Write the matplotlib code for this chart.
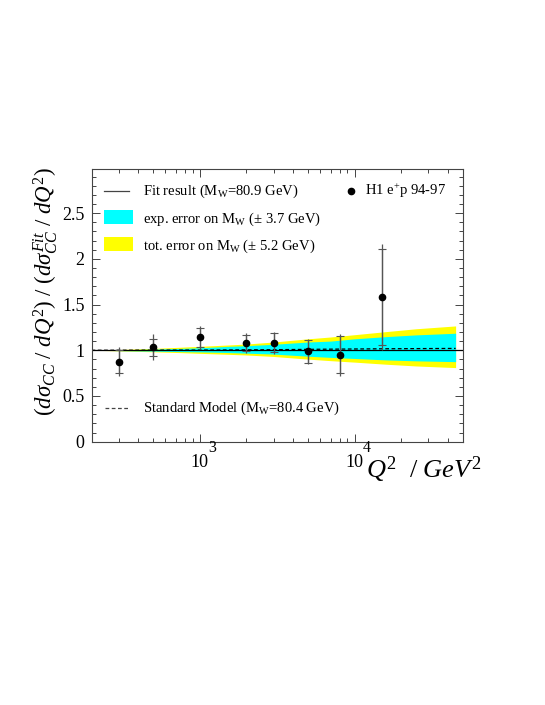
import math
import matplotlib
matplotlib.use('Agg')
import matplotlib.pyplot as plt
from matplotlib.ticker import MultipleLocator, FixedLocator, LogLocator, NullFormatter, FuncFormatter

plt.rcParams['font.family'] = ['Liberation Serif', 'DejaVu Serif']
plt.rcParams['mathtext.fontset'] = 'custom'
plt.rcParams['mathtext.rm'] = 'Liberation Serif'
plt.rcParams['mathtext.it'] = 'Liberation Serif:italic'
plt.rcParams['mathtext.bf'] = 'Liberation Serif:bold'

# H1 e+p 94-97 data points (ratio to fit)
q2_data = [300, 500, 1000, 2000, 3000, 5000, 8000, 15000]
ratio = [0.875, 1.033, 1.143, 1.078, 1.083, 0.987, 0.952, 1.58]
err_stat = [0.127, 0.095, 0.105, 0.087, 0.105, 0.13, 0.2, 0.525]
err_tot = [0.16, 0.14, 0.125, 0.11, 0.12, 0.14, 0.23, 0.58]

# error bands on M_W
q2_band = [200, 300, 500, 750, 1000, 1500, 2000, 3000, 5000, 7000, 10000, 16000, 25000, 45000]
tot_up = [1.0, 1.008, 1.02, 1.033, 1.043, 1.057, 1.068, 1.09, 1.125, 1.145, 1.17, 1.204, 1.235, 1.266]
exp_up = [1.0, 1.005, 1.012, 1.02, 1.027, 1.042, 1.05, 1.065, 1.09, 1.10, 1.125, 1.149, 1.168, 1.186]
exp_dn = [1.0, 0.996, 0.99, 0.985, 0.982, 0.975, 0.968, 0.958, 0.935, 0.922, 0.91, 0.894, 0.884, 0.875]
tot_dn = [1.0, 0.993, 0.983, 0.974, 0.966, 0.956, 0.948, 0.932, 0.903, 0.886, 0.87, 0.847, 0.828, 0.81]

# fit result and Standard Model curves
q2_fit = [200, 50000]
fit = [1.0, 1.0]
q2_sm = [200, 1000, 3000, 6000, 15000, 45000]
sm = [1.0, 1.002, 1.006, 1.011, 1.016, 1.02]

x_major = [1000, 10000]

fig = plt.figure(figsize=(5.45, 7.05), dpi=100)
ax = fig.add_axes([0.168, 0.3735, 0.681, 0.3865])

ax.fill_between(q2_band, tot_dn, tot_up, color='#ffff00', lw=0)
ax.fill_between(q2_band, exp_dn, exp_up, color='#00ffff', lw=0)
ax.plot(q2_fit, fit, color='black', lw=0.9)
ax.plot(q2_sm, sm, color='black', lw=0.9, ls=(0, (3, 2)))

ax.errorbar(q2_data, ratio, yerr=err_tot, fmt='none', ecolor='#555555', elinewidth=0.9, capsize=0)
ax.errorbar(q2_data, ratio, yerr=err_stat, fmt='o', color='black', ms=4.5,
            ecolor='#555555', elinewidth=0.9, capsize=3, capthick=0.8)

ax.set_xscale('log')
ax.set_xlim(200, 50000)
ax.set_ylim(0, 2.98)

ax.yaxis.set_major_locator(MultipleLocator(0.5))
ax.yaxis.set_minor_locator(MultipleLocator(0.1))
ax.yaxis.set_major_formatter(FuncFormatter(lambda v, p: '%g' % v))
ax.xaxis.set_major_locator(FixedLocator(x_major))
ax.xaxis.set_major_formatter(FuncFormatter(lambda v, p: '10'))
ax.xaxis.set_minor_locator(LogLocator(base=10, subs=range(2, 10)))
ax.xaxis.set_minor_formatter(NullFormatter())

# ROOT style exponents, raised high beside the "10"
for v in x_major:
    ax.annotate('%d' % round(math.log10(v)), xy=(v, 0), xycoords=('data', 'axes fraction'),
                xytext=(5.8, -4.8), textcoords='offset points', ha='left', va='center',
                fontsize=11.5, annotation_clip=False)

for s in ax.spines.values():
    s.set_color('#444444')
    s.set_linewidth(0.8)
ax.tick_params(which='both', direction='in', top=True, right=True, color='#444444', width=0.7)
ax.tick_params(which='major', length=6, labelsize=13)
ax.tick_params(which='minor', length=3)
ax.tick_params(axis='x', which='major', pad=9)
ax.tick_params(axis='y', which='major', pad=5)

# legend drawn in axes coordinates
tr = ax.transAxes
def fx(px):
    return (px - 91.7) / 371.0
def fy(py):
    return (441.7 - py) / 272.4

lfs = 10.5
ax.plot([fx(104), fx(129)], [fy(191), fy(191)], transform=tr, color='#444444', lw=0.9)
ax.text(fx(143.5), fy(191), r'Fit result (M$_{\rm W}$=80.9 GeV)', transform=tr, fontsize=lfs, va='center')
ax.add_patch(plt.Rectangle((fx(104), fy(224)), fx(133) - fx(104), fy(210) - fy(224), transform=tr,
                           color='#00ffff', lw=0))
ax.text(fx(143.5), fy(219), r'exp. error on M$_{\rm W}$ ($\pm$ 3.7 GeV)', transform=tr, fontsize=lfs, va='center')
ax.add_patch(plt.Rectangle((fx(104), fy(251)), fx(133) - fx(104), fy(237) - fy(251), transform=tr,
                           color='#ffff00', lw=0))
ax.text(fx(143.5), fy(246.5), r'tot. error on M$_{\rm W}$ ($\pm$ 5.2 GeV)', transform=tr, fontsize=lfs, va='center')
ax.plot([fx(351)], [fy(191)], 'o', color='black', ms=4.5, transform=tr)
ax.text(fx(365.5), fy(191), r'H1 e$^{+}$p 94-97', transform=tr, fontsize=lfs, va='center')
ax.plot([fx(105), fx(130)], [fy(408.5), fy(408.5)], transform=tr, color='#444444', lw=0.9, ls=(0, (3, 2)))
ax.text(fx(143.5), fy(408.5), r'Standard Model (M$_{\rm W}$=80.4 GeV)', transform=tr, fontsize=lfs, va='center')

fig.text(0.083, 0.587, r'$(d\sigma_{CC}\ /\ dQ^{2})\ /\ (d\sigma_{CC}^{Fit}\ /\ dQ^{2})$',
         rotation=90, ha='center', va='center', fontsize=16.5)
fig.text(482 / 545, 1 - 478 / 705, r'$Q^{2}\ \ /\ GeV^{2}$', ha='right', va='baseline', fontsize=19)

fig.savefig('out.png', dpi=100)
